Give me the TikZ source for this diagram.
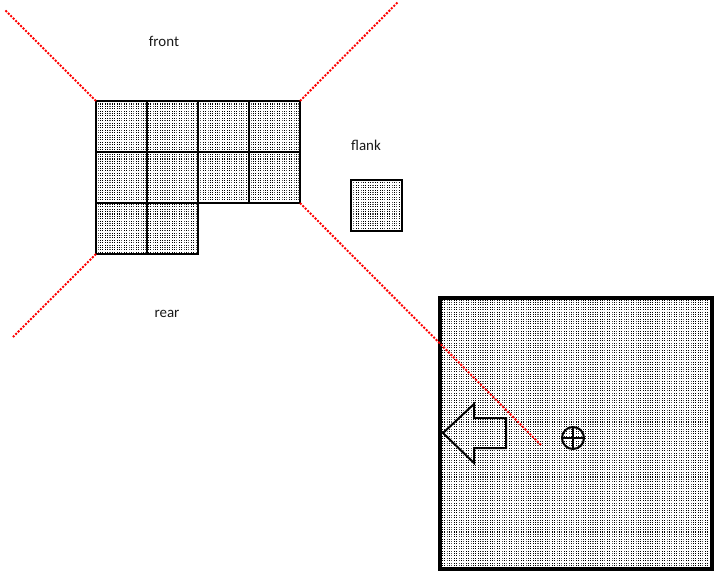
\documentclass[tikz,border=0pt]{standalone}
\usepackage{fontspec}
\setmainfont{Carlito}
\usetikzlibrary{patterns}
\pgfdeclarepatternformonly{stip}{\pgfpoint{-0.6pt}{-0.6pt}}{\pgfpoint{0.6pt}{0.6pt}}{\pgfpoint{2.4pt}{2.4pt}}{\pgfpathrectangle{\pgfpoint{-0.52pt}{-0.52pt}}{\pgfpoint{1.04pt}{1.04pt}}\pgfusepath{fill}}
\begin{document}
\begin{tikzpicture}[x=1bp,y=-1bp,
  cellbox/.style={draw=black,line width=2bp,pattern=stip},
  bigbox/.style={draw=black,line width=4bp,pattern=stip},
  outline/.style={draw=black,line width=2bp},
  sightline/.style={draw=red,line width=2bp,dash pattern=on 2bp off 1.5bp},
  lbl/.style={font=\fontsize{15}{18}\selectfont,text=black!90,inner sep=0,anchor=base}]
\useasboundingbox (0,0) rectangle (727,587);
% grid of cells
\foreach \c in {0,...,3}{
  \foreach \r in {0,1}{
    \path[cellbox] ({96+51*\c},{101+51*\r}) rectangle ++(51,51);
  }
}
\foreach \c in {0,1}{
  \path[cellbox] ({96+51*\c},203) rectangle ++(51,51);
}
\coordinate (gTL) at (96,101);
\coordinate (gTR) at (300,101);
\coordinate (gBL) at (96,254);
\coordinate (gRB) at (300,203);
% flank box
\node[cellbox,minimum size=51bp,inner sep=0,anchor=north west] (flankbox) at (350,179) {};
% big box
\path[bigbox] (440,298) rectangle (712,569);
% arrow
\path[outline,line join=miter] (443,433) -- (474,404) -- (474,418) -- (506,418) -- (506,448) -- (474,448) -- (474,463) -- cycle;
% crosshair
\node[outline,circle,minimum size=22bp,inner sep=0] (aim) at (573,438) {};
\draw[line width=1.6bp] (aim.north) -- (aim.south) (aim.west) -- (aim.east);
% sight lines
\coordinate (eTL) at (5,10);
\coordinate (eTR) at (398,2);
\coordinate (eBL) at (13,337);
\coordinate (eBR) at (542,446);
\draw[sightline] (gTL) -- (eTL);
\draw[sightline] (gTR) -- (eTR);
\draw[sightline] (gBL) -- (eBL);
\draw[sightline] (gRB) -- (eBR);
% labels
\node[lbl] (front) at (164,47) {front};
\node[lbl] (flank) at (366,151) {flank};
\node[lbl] (rear) at (167,317) {rear};
\end{tikzpicture}
\end{document}
